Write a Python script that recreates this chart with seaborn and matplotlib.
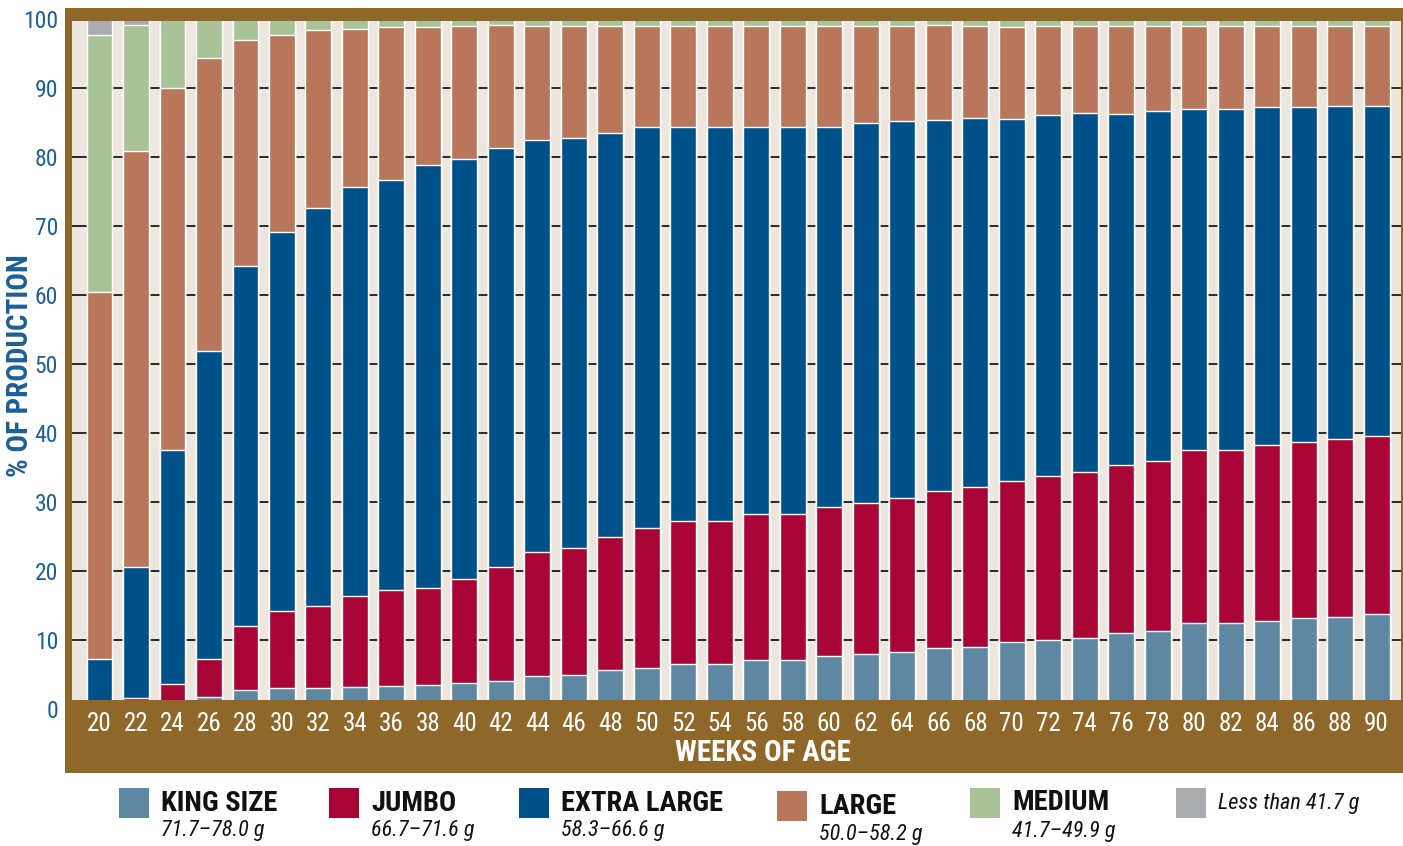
import numpy as np
import pandas as pd
import matplotlib
matplotlib.use("Agg")
import matplotlib.pyplot as plt
import matplotlib.font_manager as fm
import seaborn as sns
from matplotlib.patches import Rectangle

# ---------------- data ----------------
weeks = ["20", "22", "24", "26", "28", "30", "32", "34", "36", "38", "40", "42",
         "44", "46", "48", "50", "52", "54", "56", "58", "60", "62", "64", "66",
         "68", "70", "72", "74", "76", "78", "80", "82", "84", "86", "88", "90"]

king_size = [0.0, 0.8, 0.4, 1.8, 2.7, 3.1, 3.1, 3.2, 3.3, 3.5, 3.7, 4.1,
             4.8, 4.9, 5.7, 6.0, 6.5, 6.5, 7.1, 7.1, 7.7, 7.9, 8.2, 8.8,
             9.0, 9.7, 10.0, 10.3, 11.0, 11.3, 12.4, 12.4, 12.7, 13.2, 13.4, 13.8]
jumbo = [0.0, 0.8, 3.2, 5.4, 9.4, 11.1, 11.9, 13.2, 13.9, 14.1, 15.2, 16.5,
         18.0, 18.5, 19.3, 20.3, 20.8, 20.8, 21.2, 21.2, 21.6, 22.0, 22.4, 22.8,
         23.2, 23.4, 23.8, 24.1, 24.4, 24.6, 25.1, 25.1, 25.5, 25.5, 25.7, 25.7]
extra_large = [7.2, 19.0, 33.9, 44.7, 52.1, 55.0, 57.6, 59.2, 59.5, 61.2, 60.8, 60.7,
               59.6, 59.4, 58.5, 58.0, 57.0, 57.0, 56.0, 56.0, 55.1, 55.0, 54.6, 53.7,
               53.4, 52.4, 52.3, 52.0, 50.9, 50.8, 49.5, 49.5, 49.1, 48.6, 48.3, 47.9]
large = [53.3, 60.3, 52.5, 42.4, 32.7, 28.5, 25.8, 23.0, 22.1, 20.1, 19.3, 17.8,
         16.6, 16.2, 15.5, 14.7, 14.7, 14.7, 14.7, 14.7, 14.6, 14.1, 13.8, 13.9,
         13.4, 13.4, 12.9, 12.6, 12.7, 12.3, 12.0, 12.0, 11.7, 11.7, 11.6, 11.6]
medium = [37.2, 18.2, 10.0, 5.7, 3.1, 2.3, 1.6, 1.4, 1.2, 1.1, 1.0, 0.9,
          1.0, 1.0, 1.0, 1.0, 1.0, 1.0, 1.0, 1.0, 1.0, 1.0, 1.0, 0.8,
          1.0, 1.1, 1.0, 1.0, 1.0, 1.0, 1.0, 1.0, 1.0, 1.0, 1.0, 1.0]
less_than = [2.3, 0.9, 0.0, 0.0, 0.0, 0.0, 0.0, 0.0, 0.0, 0.0, 0.0, 0.0,
             0.0, 0.0, 0.0, 0.0, 0.0, 0.0, 0.0, 0.0, 0.0, 0.0, 0.0, 0.0,
             0.0, 0.0, 0.0, 0.0, 0.0, 0.0, 0.0, 0.0, 0.0, 0.0, 0.0, 0.0]

categories = ["KING SIZE", "JUMBO", "EXTRA LARGE", "LARGE", "MEDIUM", "Less than 41.7 g"]
ranges = ["71.7\u201378.0 g", "66.7\u201371.6 g", "58.3\u201366.6 g",
          "50.0\u201358.2 g", "41.7\u201349.9 g", ""]
yticks = [0, 10, 20, 30, 40, 50, 60, 70, 80, 90, 100]
x_title = "WEEKS OF AGE"
y_title = "% OF PRODUCTION"

# ---------------- style ----------------
colors = ["#5E87A1", "#A80536", "#005189", "#B8765B", "#A8C397", "#AAABAE"]
BROWN = "#8F6829"
BEIGE = "#EDE6DE"
BLUE = "#1D5F96"

sns.set_style("white")

# choose the narrowest suitable installed sans family
entries = fm.fontManager.ttflist
names = {f.name for f in entries}
family, stretch = "Roboto", "normal"
if "Liberation Sans Narrow" in names:
    family = "Liberation Sans Narrow"
elif "Roboto Condensed" in names:
    family = "Roboto Condensed"
elif any(f.name == "Roboto" and "condensed" in str(f.stretch) for f in entries):
    family, stretch = "Roboto", "condensed"
elif "Arial Narrow" in names:
    family = "Arial Narrow"
plt.rcParams["font.family"] = [family, "DejaVu Sans"]
plt.rcParams["font.stretch"] = stretch

W, H = 1403, 846
fig = plt.figure(figsize=(W / 100, H / 100), dpi=100)


def fx(px):
    return px / W


def fy(py):
    return 1 - py / H


PX_PER_UNIT = 6.9
Y0_PX = 709          # pixel row of value 0
YMAX = 100.5
ytop_px = Y0_PX - YMAX * PX_PER_UNIT
ax_h_px = Y0_PX - ytop_px

# brown frame behind the axes
fig.patches.append(Rectangle((fx(65), fy(773)), fx(1403) - fx(65), fy(8) - fy(773),
                             transform=fig.transFigure, facecolor=BROWN,
                             edgecolor="none", zorder=-1))

ax = fig.add_axes([fx(72), fy(Y0_PX), (1401 - 72) / W, ax_h_px / H])
ax.set_facecolor(BEIGE)

# ---------------- data frame & stacked bars ----------------
df = pd.DataFrame({"week": weeks})
series = [king_size, jumbo, extra_large, large, medium, less_than]
cum = np.cumsum(np.array(series), axis=0)

for i in range(len(series) - 1, -1, -1):
    sns.barplot(x=df["week"], y=cum[i], color=colors[i], saturation=1,
                width=0.71, edgecolor="white", linewidth=1.0, ax=ax,
                order=weeks, zorder=2)

ax.set_xlim(-0.754, len(weeks) - 1 + 0.67)
ax.set_ylim(0, YMAX)
ax.set_yticks(yticks)
ax.set_yticklabels([str(t) for t in yticks])
ax.set_xlabel("")
ax.set_ylabel("")

ax.yaxis.grid(True, color="#1a1a1a", linewidth=1.3)
ax.xaxis.grid(False)
ax.set_axisbelow(True)
for s in ax.spines.values():
    s.set_visible(False)

ax.tick_params(axis="y", length=0, pad=10, labelsize=17, labelcolor=BLUE)
ax.tick_params(axis="x", length=0, pad=2, labelsize=18, labelcolor="white")

# brown overlays at top and bottom of the plot area
ax.add_patch(Rectangle((0, 0), 1, (Y0_PX - 700) / ax_h_px, transform=ax.transAxes,
                       facecolor=BROWN, edgecolor="none", zorder=5, clip_on=False))
top_frac = (Y0_PX - 21) / ax_h_px
ax.add_patch(Rectangle((0, top_frac), 1, 1 - top_frac, transform=ax.transAxes,
                       facecolor=BROWN, edgecolor="none", zorder=5, clip_on=False))

# titles
fig.text(fx(763), fy(753), x_title, color="white", fontsize=21, fontweight="bold",
         ha="center", va="center")
fig.text(fx(20), fy(366), y_title, color=BLUE, fontsize=21, fontweight="bold",
         rotation=90, ha="center", va="center")

# ---------------- legend ----------------
sw_x = [119, 329, 519, 777, 970, 1176]
sw_y = [788, 788, 788, 791, 788, 788]
title_y = [803, 803, 803, 806, 802, 803]
range_y = [830, 830, 830, 834, 831, 0]
for i, cat in enumerate(categories):
    fig.patches.append(Rectangle((fx(sw_x[i]), fy(sw_y[i] + 30)), 30 / W, 30 / H,
                                 transform=fig.transFigure, facecolor=colors[i],
                                 edgecolor="none"))
    if ranges[i]:
        fig.text(fx(sw_x[i] + 42), fy(title_y[i]), cat, fontsize=20.5, fontweight="bold",
                 color="#111111", ha="left", va="center")
        fig.text(fx(sw_x[i] + 42), fy(range_y[i]), ranges[i], fontsize=16,
                 style="italic", color="#111111", ha="left", va="center")
    else:
        fig.text(fx(sw_x[i] + 42), fy(title_y[i]), cat, fontsize=16,
                 style="italic", color="#111111", ha="left", va="center")

fig.savefig("out.png", dpi=100)
